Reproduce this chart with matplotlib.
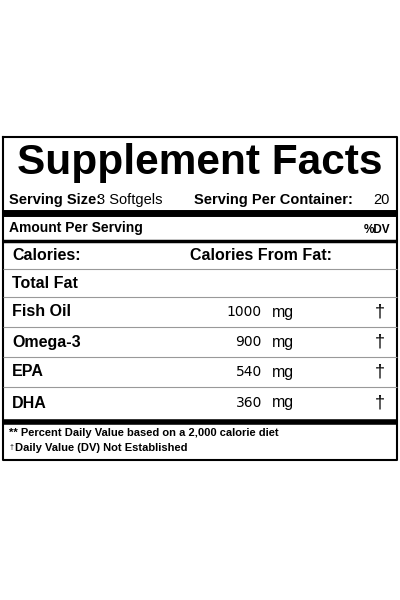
import matplotlib.pyplot as plt

nutrients = ["Fish Oil", "Omega-3", "EPA", "DHA"]
amounts = ["1000", "900", "540", "360"]
units = ["mg", "mg", "mg", "mg"]
dv_marks = ["†", "†", "†", "†"]

serving_size = "3 Softgels"
servings_per_container = "20"

plt.rcParams['font.family'] = ['Liberation Sans', 'DejaVu Sans']

fig = plt.figure(figsize=(4, 6), dpi=100)
ax = fig.add_axes([0, 0, 1, 1])
ax.set_xlim(0, 400)
ax.set_ylim(600, 0)
ax.axis('off')


def hline(y, lw, color='black'):
    ax.plot([3, 397], [y, y], color=color, lw=lw, solid_capstyle='butt')


# outer box
ax.plot([3, 397, 397, 3, 3], [137, 137, 460, 460, 137], color='black', lw=1.5)

ax.text(200, 163, "Supplement Facts", ha='center', va='center', fontsize=30.5, fontweight='bold')
ax.text(9, 200, "Serving Size:", ha='left', va='center', fontsize=10.5, fontweight='bold')
ax.text(97, 200, serving_size, ha='left', va='center', fontsize=10.5)
ax.text(194, 200, "Serving Per Container:", ha='left', va='center', fontsize=10.5, fontweight='bold')
ax.text(373, 200, servings_per_container, ha='left', va='center', fontsize=10.5)

hline(213, 5)
ax.text(9, 228, "Amount Per Serving", ha='left', va='center', fontsize=10, fontweight='bold')
ax.text(390, 230, "%DV", ha='right', va='center', fontsize=8.5, fontweight='bold')
hline(241, 2.5)

ax.text(12, 256, "Calories:", ha='left', va='center', fontsize=11.5, fontweight='bold')
ax.text(190, 256, "Calories From Fat:", ha='left', va='center', fontsize=11.5, fontweight='bold')
hline(269, 0.8, '#999999')
ax.text(12, 283, "Total Fat", ha='left', va='center', fontsize=11.5, fontweight='bold')
hline(297, 0.8, '#999999')

row_y = [312, 342, 372, 403]
for i, name in enumerate(nutrients):
    y = row_y[i]
    ax.text(12, y, name, ha='left', va='center', fontsize=11.5, fontweight='bold')
    ax.text(262, y, amounts[i], ha='right', va='center', fontsize=10, family='DejaVu Sans')
    ax.text(272, y, units[i], ha='left', va='center', fontsize=11.5)
    ax.text(380, y, dv_marks[i], ha='center', va='center', fontsize=13)
    if i < len(nutrients) - 1:
        hline(y + 15, 0.8, '#999999')

hline(422, 4)
ax.text(9, 433, "** Percent Daily Value based on a 2,000 calorie diet", ha='left', va='center', fontsize=8, fontweight='bold')
ax.text(9, 448, "†", ha='left', va='center', fontsize=5)
ax.text(15, 448, "Daily Value (DV) Not Established", ha='left', va='center', fontsize=8, fontweight='bold')

fig.savefig("out.png", dpi=100, facecolor='white')
